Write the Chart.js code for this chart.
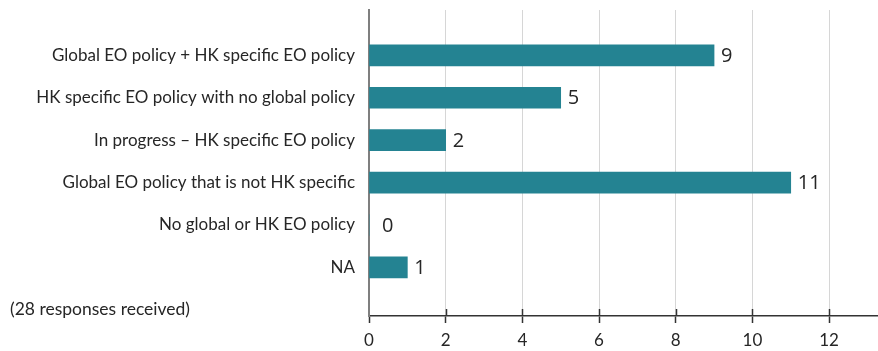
<!DOCTYPE html>
<html>
<head>
<meta charset="utf-8">
<script src="https://cdn.jsdelivr.net/npm/chart.js@4/dist/chart.umd.min.js"></script>
<style>
  html, body { margin: 0; padding: 0; background: #ffffff; }
  #wrap { width: 878px; height: 351px; position: relative; }
</style>
</head>
<body>
<div id="wrap"><canvas id="c" width="878" height="351"></canvas></div>
<script>
const categories = [
  'Global EO policy + HK specific EO policy',
  'HK specific EO policy with no global policy',
  'In progress \u2013 HK specific EO policy',
  'Global EO policy that is not HK specific',
  'No global or HK EO policy',
  'NA'
];
const responses = [9, 5, 2, 11, 0, 1];
const xTicks = [0, 2, 4, 6, 8, 10, 12];
const note = '(28 responses received)';

const barColor = '#248392';
const points = responses.map((v, i) => ({ x: v, y: i }));

const extras = {
  id: 'extras',
  afterDatasetsDraw(chart) {
    const ctx = chart.ctx;
    const meta = chart.getDatasetMeta(0);
    ctx.save();
    ctx.font = '20px "Open Sans"';
    ctx.fillStyle = '#262626';
    ctx.textAlign = 'left';
    ctx.textBaseline = 'middle';
    meta.data.forEach((el, i) => {
      const v = responses[i];
      const off = v === 0 ? 13 : 7;
      ctx.fillText(String(v), el.x + off, el.y + 1);
    });
    const ys = chart.scales.y;
    ctx.font = '17.5px Lato';
    ctx.fillText(note, 10, ys.getPixelForValue(5.98));
    // tick marks crossing above the x axis
    const xs = chart.scales.x;
    const yb = chart.chartArea.bottom;
    ctx.strokeStyle = '#333333';
    ctx.lineWidth = 1.5;
    xTicks.slice(1).forEach(v => {
      const px = Math.round(xs.getPixelForValue(v)) + 0.5;
      ctx.beginPath();
      ctx.moveTo(px, yb - 7);
      ctx.lineTo(px, yb);
      ctx.stroke();
    });
    ctx.restore();
  }
};

new Chart(document.getElementById('c'), {
  type: 'bar',
  data: {
    datasets: [{
      data: points,
      backgroundColor: barColor,
      borderWidth: 0,
      barThickness: 21
    }]
  },
  options: {
    indexAxis: 'y',
    responsive: false,
    animation: false,
    layout: { padding: { top: 10, right: 1, left: 0, bottom: 0 } },
    plugins: { legend: { display: false }, tooltip: { enabled: false } },
    scales: {
      x: {
        type: 'linear',
        min: 0,
        max: 13.25,
        afterBuildTicks: s => { s.ticks = xTicks.map(v => ({ value: v })); },
        afterFit: s => { s.height = 35; },
        grid: {
          color: '#d6d6d6',
          lineWidth: 1,
          tickLength: 7,
          tickColor: '#333333',
          tickWidth: 1.5,
          drawTicks: true
        },
        border: { color: '#333333', width: 1.5 },
        ticks: {
          font: { family: 'Lato', size: 17 },
          color: '#262626',
          padding: 7
        }
      },
      y: {
        type: 'linear',
        offset: false,
        reverse: true,
        min: -1.07,
        max: 6.147,
        afterBuildTicks: s => { s.ticks = categories.map((c, i) => ({ value: i })); },
        afterFit: s => { s.width = 369; s.paddingTop = 0; s.paddingBottom = 0; },
        grid: { display: false, drawTicks: false },
        border: { color: '#7f7f7f', width: 2 },
        ticks: {
          font: { family: 'Lato', size: 17, lineHeight: 0.5 },
          color: '#262626',
          padding: 14,
          callback: v => categories[v]
        }
      }
    }
  },
  plugins: [extras]
});
</script>
</body>
</html>
